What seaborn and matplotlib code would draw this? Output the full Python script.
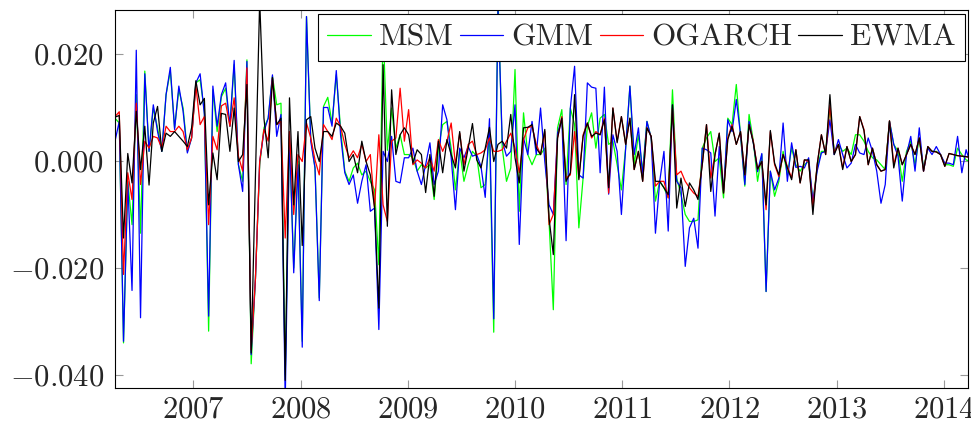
import numpy as np
import pandas as pd
import matplotlib
matplotlib.use("Agg")
import matplotlib.pyplot as plt
import matplotlib.dates as mdates
from matplotlib.ticker import FixedLocator, FuncFormatter
import seaborn as sns

# Observation dates (roughly fortnightly, April 2006 - March 2014)
dates = pd.date_range("2006-04-09", "2014-04-01", periods=202)

# Series values in units of 1e-3
msm = [
    8.0, 7.1, -34.0, -3.8, -11.9, 12.4, -13.5, 16.8, 1.8, 9.9,
    6.2, 1.8, 12.4, 16.8, 6.2, 13.3, 9.9, 1.8, 4.3, 14.6,
    15.2, 9.3, -31.8, 13.3, 5.5, 12.0, 13.6, 6.5, 18.0, -0.7,
    -3.8, 18.9, -37.9, -22.0, -0.7, 6.2, 8.0, 15.8, 10.5, 10.8,
    -40.0, 4.5, -20.0, -0.1, -33.7, 27.0, 4.3, -1.3, -25.6, 10.2,
    11.9, 7.1, 16.1, 6.2, -1.9, -3.8, -1.3, -0.4, -2.6, -1.9,
    -3.8, -5.4, -19.4, 25.0, 2.0, 9.9, 2.4, 4.9, 1.2, 1.2,
    0.6, -1.9, -0.7, -1.3, -0.7, -7.2, 2.4, 6.8, 7.4, 2.4,
    -5.4, 2.1, -3.8, -0.7, 1.8, 0.9, -5.0, -4.4, 4.9, -32.0,
    31.0, 2.4, -3.8, -1.3, 17.1, -9.4, 9.0, 1.2, -0.7, 1.2,
    1.2, 2.4, -11.3, -27.8, 6.2, 9.6, -4.4, 9.9, 6.8, -12.5,
    -3.2, 6.5, 9.0, 2.4, 8.0, 8.7, 3.1, 3.7, -0.7, -5.4,
    2.4, 14.0, -0.7, 4.9, -1.9, 7.4, 4.3, -7.5, -3.8, -5.0,
    -6.9, 13.3, -3.2, -6.3, -10.0, -11.3, -11.3, -11.0, 2.4, 4.3,
    5.5, -0.1, 0.6, -6.9, 8.0, 6.8, 14.3, 4.9, -4.7, 8.7,
    3.7, -3.8, 1.2, -24.4, -1.9, -6.6, -3.8, 1.8, -2.6, 2.4,
    -0.7, -1.9, -0.7, -0.1, -7.5, -1.3, 1.8, 1.8, 9.9, 1.8,
    3.1, 1.8, 2.4, 1.2, 4.9, 4.9, 3.7, 1.8, 0.6, 0.2,
    -0.7, -1.6, 7.4, 3.1, 1.8, -3.8, 1.8, 3.7, -0.7, 4.3,
    -1.3, 2.4, 1.8, 1.8, 1.2, -0.7, -0.7, -1.0, 2.4, 1.2,
    0.2, -0.1,
]
gmm = [
    3.7, 7.4, -33.7, -3.8, -24.2, 20.7, -29.3, 16.3, 1.8, 10.5,
    5.5, 1.8, 12.4, 17.5, 5.9, 14.0, 9.3, 1.5, 4.3, 14.6,
    16.3, 8.7, -29.0, 14.0, 6.5, 12.4, 14.6, 6.5, 18.8, -0.7,
    -5.7, 18.6, -36.2, -22.0, -0.1, 5.5, 8.0, 16.1, 4.6, 8.7,
    -45.0, 5.0, -20.9, -0.7, -34.8, 27.0, 3.7, -1.3, -26.1, 10.0,
    10.0, 6.5, 16.9, 4.9, -2.2, -4.4, -2.6, -7.9, -3.8, -0.7,
    -9.4, -8.8, -31.5, 1.8, -0.1, 4.6, -3.8, -4.1, 0.6, 0.6,
    2.4, -1.9, -4.4, -0.7, 3.4, -4.4, -1.9, 10.5, 7.7, 0.6,
    -9.1, 2.4, 0.6, 2.7, 0.9, 1.2, -1.0, -6.8, 7.9, -29.5,
    29.0, 3.7, 0.9, 1.8, 10.5, -15.6, 4.3, 1.2, 7.4, 1.2,
    9.9, -0.1, -8.2, -10.0, 5.2, 8.0, -14.9, 9.9, 17.7, -2.6,
    -3.2, 14.6, 13.8, 13.6, -2.2, 13.8, -6.2, 4.9, 1.8, -10.0,
    2.4, 14.0, 1.2, 6.2, -2.6, 7.4, 4.3, -13.5, -3.8, 1.8,
    -13.1, 10.5, -3.8, -5.0, -19.7, -12.5, -10.7, -16.3, 2.4, 2.1,
    1.5, -10.3, 2.7, -5.7, 7.7, 5.5, 11.5, 4.9, -4.4, 7.4,
    3.4, -2.0, 1.4, -24.4, -1.9, -5.4, -3.2, 7.1, -3.8, 3.4,
    -1.2, -1.0, -1.3, 0.6, -7.5, -1.9, 1.5, 1.8, 7.7, 1.2,
    4.0, 1.2, -1.3, -0.4, 3.1, 1.5, 1.2, 4.3, 1.8, -1.9,
    -7.9, -4.4, 7.4, 3.1, 0.9, -7.5, 1.2, 4.6, -1.9, 6.2,
    -1.9, 2.4, 1.2, 2.7, 1.2, -0.4, -0.4, -0.7, 4.6, -2.2,
    2.1, -0.4,
]
ogarch = [
    8.3, 9.2, -21.2, -2.2, -7.2, 10.8, -4.4, 3.7, 2.4, 4.6,
    4.3, 2.4, 6.5, 5.5, 5.5, 6.5, 5.5, 2.1, 4.3, 14.1,
    6.8, 8.3, -11.9, 4.6, 2.1, 10.3, 10.8, 6.5, 11.8, 0.9,
    -1.9, 17.4, -35.3, -22.0, -0.1, 5.9, 3.7, 15.5, 6.8, 7.4,
    -14.4, 5.5, -10.0, 1.2, -0.1, 7.1, 4.3, 0.2, -2.6, 6.8,
    5.5, 4.0, 8.0, 6.5, 3.1, 0.6, 1.9, 0.6, 3.1, -0.1,
    1.2, -8.8, 4.9, -8.2, -11.3, 3.7, 4.3, 13.6, 3.7, 9.6,
    -0.7, 0.2, -0.4, -1.3, 0.6, -1.9, 4.0, 1.8, 3.7, 7.1,
    -0.7, 5.2, -0.7, 3.1, 3.7, 1.2, 1.5, 2.1, 4.3, 1.8,
    1.8, 2.1, 3.7, 5.2, 2.4, -2.2, 4.0, 6.2, 6.5, 3.1,
    1.2, 5.5, -11.9, -10.0, 4.3, 8.3, -3.2, -2.6, 5.5, -3.2,
    4.9, 7.1, 4.3, 5.5, 4.9, 8.0, -6.0, 9.9, 3.7, 8.3,
    3.1, 8.0, -1.6, 1.8, -3.8, 6.2, 4.6, -4.7, -3.8, -3.8,
    -6.9, 9.9, -2.6, -1.9, -3.8, -5.0, -6.0, -6.6, -0.7, 6.8,
    -3.2, 1.2, 5.2, -6.0, 4.3, 6.8, 3.1, 5.5, -2.6, 6.8,
    3.7, -1.5, -0.1, -9.1, 5.5, -0.7, -2.9, 1.2, -1.0, -3.2,
    2.1, -4.1, 0.2, -0.1, -8.8, -0.7, 4.9, 1.2, 10.5, 1.5,
    3.1, -1.3, 2.7, -0.1, 1.2, 8.3, 5.9, -0.7, 2.4, -0.7,
    -1.9, -1.6, 7.5, -0.7, 2.4, -0.7, 1.2, 3.1, 1.2, 4.3,
    -1.9, 2.7, 1.8, 1.7, 1.2, -1.0, 1.4, 1.2, 1.0, 0.9,
    0.8, 0.7,
]
ewma = [
    8.2, 8.5, -14.4, 1.4, -4.1, 9.3, -1.6, 6.5, -4.5, 7.1,
    10.2, 1.8, 5.2, 4.6, 5.5, 4.6, 3.7, 2.7, 6.2, 15.0,
    10.5, 11.7, -8.2, 1.5, -3.5, 8.9, 8.7, 1.8, 9.9, -0.1,
    1.2, 14.3, -35.9, -3.0, 30.0, 8.0, 0.6, 15.6, 6.8, 8.0,
    -41.0, 11.8, -8.2, 5.5, -15.8, 7.7, 8.3, 2.4, -0.1, 5.5,
    5.5, 4.6, 7.1, 6.5, 5.2, -0.1, 1.2, -2.2, 3.7, -0.1,
    -2.6, -8.8, -27.5, 18.0, -12.2, 13.3, 1.2, 4.9, 6.2, 4.9,
    -0.4, 2.1, 1.2, -5.9, 1.2, -6.6, 3.7, -2.2, 4.0, 1.2,
    -1.3, 5.5, -1.9, 2.4, 7.0, 0.2, -1.3, 2.4, 6.3, -0.1,
    3.1, 3.7, 2.4, 8.7, 0.6, -4.1, 6.2, 6.3, 6.8, 2.4,
    1.2, 5.9, -10.7, -17.5, 4.3, 8.0, -3.8, -2.2, 12.4, -3.5,
    4.6, 7.1, 4.6, 5.2, 4.9, 7.7, -5.0, 9.9, 3.4, 8.3,
    3.1, 8.0, -1.6, 1.8, -3.8, 6.2, 4.6, -3.8, -3.8, -5.0,
    -6.3, 10.5, -8.8, -3.2, -8.5, -4.1, -5.4, -7.2, -0.7, 6.8,
    -5.7, 1.2, 5.2, -6.0, 4.0, 6.5, 3.1, 5.5, -2.6, 6.8,
    3.4, -1.5, -0.1, -8.2, 5.7, -0.4, -2.6, 1.2, -1.3, -3.5,
    2.1, -4.1, 0.2, 0.2, -10.0, -0.7, 4.9, 1.2, 12.4, 1.2,
    3.1, -1.6, 2.7, -0.1, 1.2, 8.3, 5.7, -0.7, 2.4, -0.7,
    -1.9, -1.6, 7.5, -1.3, 2.4, -0.7, 1.2, 3.1, 1.2, 4.3,
    -1.9, 2.7, 1.8, 1.7, 1.2, -1.0, 1.4, 1.2, 1.0, 0.9,
    0.8, 0.7,
]

models = ["MSM", "GMM", "OGARCH", "EWMA"]
colors = {"MSM": "#00ff00", "GMM": "#0000ff", "OGARCH": "#ff0000", "EWMA": "#000000"}
y_ticks = [-0.04, -0.02, 0.0, 0.02]

df = pd.concat(
    [
        pd.DataFrame({"date": dates, "value": np.asarray(vals) * 1e-3, "model": name})
        for name, vals in zip(models, [msm, gmm, ogarch, ewma])
    ],
    ignore_index=True,
)

sns.set_style("ticks")
plt.rcParams.update({
    "font.family": ["cmr10"],
    "mathtext.fontset": "cm",
    "axes.formatter.use_mathtext": True,
    "axes.edgecolor": "black",
    "axes.linewidth": 0.8,
})

fig = plt.figure(figsize=(9.71, 4.26), dpi=100)
ax = fig.add_axes([115 / 971, 38 / 426, 853 / 971, 378 / 426])

sns.lineplot(
    data=df, x="date", y="value", hue="model", hue_order=models,
    palette=colors, linewidth=0.9, estimator=None, sort=False, ax=ax,
)

ax.set_xlim(dates[0], pd.Timestamp("2014-03-24"))
ax.set_ylim(-0.04243, 0.02822)
ax.set_xlabel("")
ax.set_ylabel("")

ax.yaxis.set_major_locator(FixedLocator(y_ticks))
ax.yaxis.set_major_formatter(FuncFormatter(lambda v, p: f"${v:.3f}$"))
ax.xaxis.set_major_locator(mdates.YearLocator())
ax.xaxis.set_major_formatter(FuncFormatter(lambda v, p: f"${mdates.num2date(v).year}$"))

ax.tick_params(axis="both", direction="in", length=6, width=0.8, color="0.6",
               top=True, right=True, labelsize=22)
ax.tick_params(axis="y", pad=8)
ax.tick_params(axis="x", pad=6)

handles, labels = ax.get_legend_handles_labels()
leg = ax.legend(
    handles, labels, ncol=4, loc="upper right", bbox_to_anchor=(0.9965, 0.989),
    borderaxespad=0, fontsize=22.5, handlelength=1.4, handletextpad=0.25,
    columnspacing=0.2, borderpad=0.3, frameon=True, fancybox=False,
    edgecolor="black", framealpha=1,
)
leg.get_frame().set_linewidth(0.8)
for ln in leg.get_lines():
    ln.set_linewidth(0.9)

fig.savefig("out.png", dpi=100)
